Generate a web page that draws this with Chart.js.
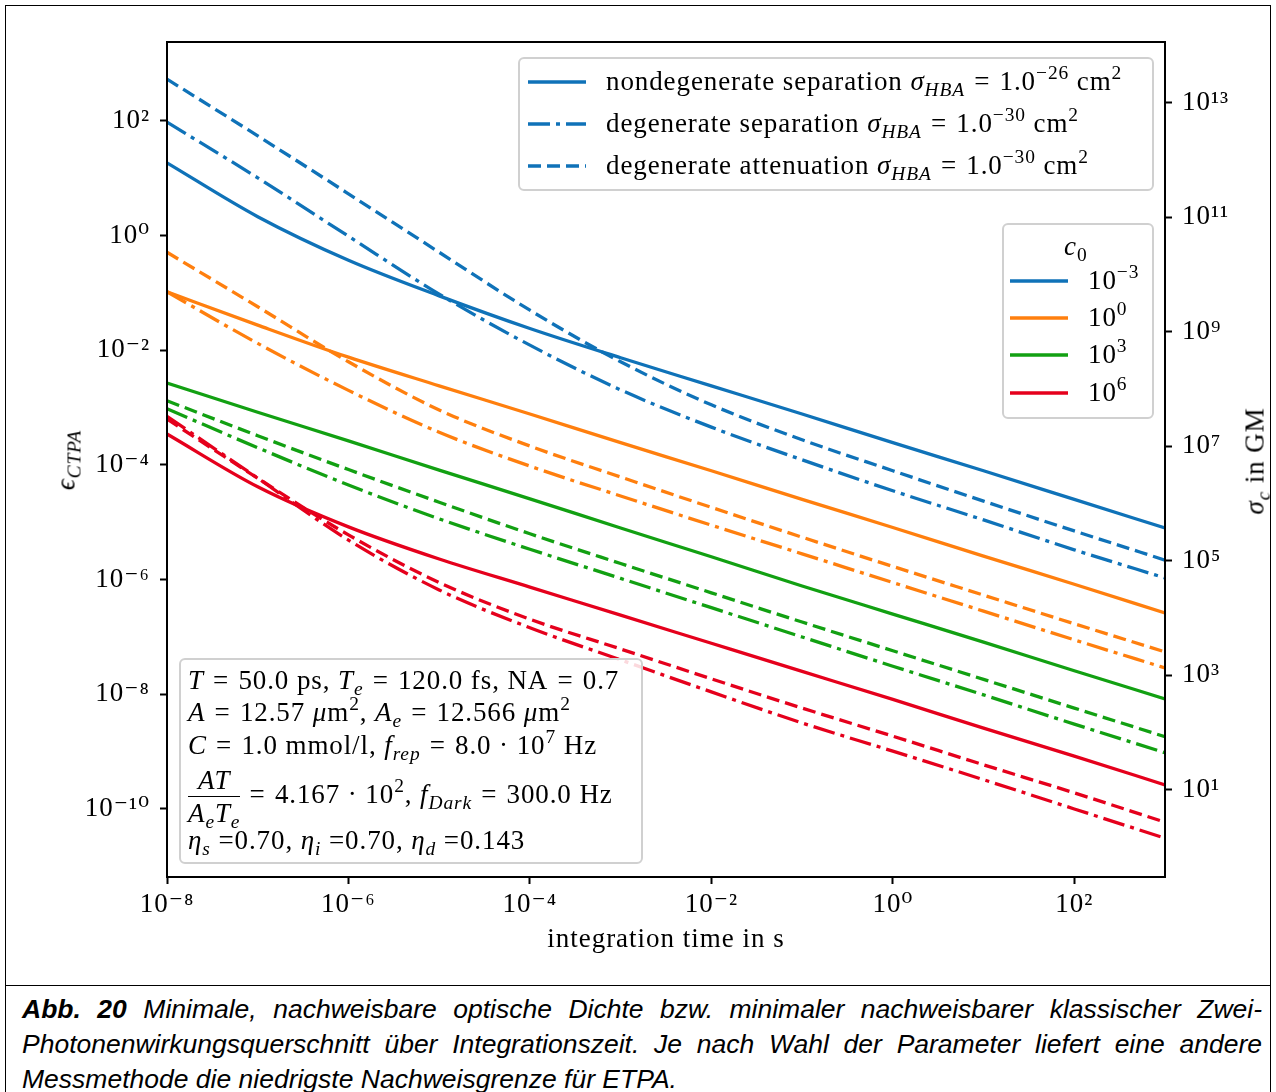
<!DOCTYPE html>
<html>
<head>
<meta charset="utf-8">
<script src="https://cdn.jsdelivr.net/npm/chart.js@4/dist/chart.umd.min.js"></script>
<style>
  body { margin: 0; background: #fff; width: 1276px; height: 1092px; position: relative; overflow: hidden; }
  #frame { position: absolute; left: 5px; top: 5px; width: 1264px; height: 979px; border: 1.5px solid #000; }
  #capbox { position: absolute; left: 5px; top: 985px; width: 1264px; height: 120px; border-left: 1.5px solid #000; border-right: 1.5px solid #000; border-top: 1.5px solid #000; }
  #wrap { position: absolute; left: 0; top: 0; width: 1276px; height: 985px; }
  .m { position: absolute; font-family: "Liberation Serif", "DejaVu Serif", serif; font-size: 27px; color: #000; white-space: nowrap; line-height: 1; letter-spacing: 0.9px; }
  .m i { font-style: italic; }
  .m sub { font-size: 72%; vertical-align: -0.3em; line-height: 0; }
  .m sup { font-size: 72%; vertical-align: 0.55em; line-height: 0; }
  .eq { margin: 0 0.34em; }
  .box { position: absolute; border: 2px solid #d0d0d0; border-radius: 6px; background: rgba(255,255,255,0.85); }
  .row { position: absolute; display: flex; align-items: center; }
  .row svg { margin-right: 20px; flex: none; }
  .cap { position: absolute; left: 22px; width: 1240px; font-family: "Liberation Sans", Arial, sans-serif; font-style: italic; font-size: 26.5px; color: #000; text-align: justify; text-align-last: justify; white-space: nowrap; line-height: 1; }
  .frac { display: inline-block; vertical-align: middle; text-align: center; margin-right: 0; }
  .frac > span { display: block; line-height: 1.2; }
  .frac .num { border-bottom: 1.4px solid #000; padding: 0 3px; }
</style>
</head>
<body>
<div id="frame"></div>
<div id="capbox"></div>
<div id="wrap"><canvas id="graph"></canvas></div>

<!-- axis titles -->
<div class="m" style="left:66px; top:460px; transform: translate(-50%,-50%) rotate(-90deg);"><i>ϵ<sub>CTPA</sub></i></div>
<div class="m" style="left:1255px; top:461px; transform: translate(-50%,-50%) rotate(-90deg);"><i>σ<sub>c</sub></i> in GM</div>

<!-- method legend -->
<div class="box" style="left:518px; top:57px; width:632px; height:130px;"></div>
<div class="row m" style="left:528px; top:68px;"><svg width="58" height="26"><line x1="0" y1="13" x2="58" y2="13" stroke="#0f72b8" stroke-width="3.4"/></svg><span>nondegenerate separation <i>σ<sub>HBA</sub></i><span class="eq">=</span>1.0<sup>−26</sup>&#8197;cm<sup>2</sup></span></div>
<div class="row m" style="left:528px; top:110px;"><svg width="58" height="26"><line x1="0" y1="13" x2="58" y2="13" stroke="#0f72b8" stroke-width="3.4" stroke-dasharray="22 6 4 6"/></svg><span>degenerate separation <i>σ<sub>HBA</sub></i><span class="eq">=</span>1.0<sup>−30</sup>&#8197;cm<sup>2</sup></span></div>
<div class="row m" style="left:528px; top:152px;"><svg width="58" height="26"><line x1="0" y1="13" x2="58" y2="13" stroke="#0f72b8" stroke-width="3.4" stroke-dasharray="13 6"/></svg><span>degenerate attenuation <i>σ<sub>HBA</sub></i><span class="eq">=</span>1.0<sup>−30</sup>&#8197;cm<sup>2</sup></span></div>

<!-- c0 legend -->
<div class="box" style="left:1002px; top:223px; width:148px; height:192px;"></div>
<div class="m" style="left:1064px; top:233px;"><i>c</i><sub>0</sub></div>
<div class="row m" style="left:1010px; top:267px;"><svg width="58" height="26"><line x1="0" y1="13" x2="58" y2="13" stroke="#0f72b8" stroke-width="3.4"/></svg><span>10<sup>−3</sup></span></div>
<div class="row m" style="left:1010px; top:304px;"><svg width="58" height="26"><line x1="0" y1="13" x2="58" y2="13" stroke="#ff7f0e" stroke-width="3.4"/></svg><span>10<sup>0</sup></span></div>
<div class="row m" style="left:1010px; top:341px;"><svg width="58" height="26"><line x1="0" y1="13" x2="58" y2="13" stroke="#12a012" stroke-width="3.4"/></svg><span>10<sup>3</sup></span></div>
<div class="row m" style="left:1010px; top:379px;"><svg width="58" height="26"><line x1="0" y1="13" x2="58" y2="13" stroke="#e5001c" stroke-width="3.4"/></svg><span>10<sup>6</sup></span></div>

<!-- parameter box -->
<div class="box" style="left:179px; top:658px; width:460px; height:202px;"></div>
<div class="m" style="left:188px; top:667px;"><i>T</i><span class="eq">=</span>50.0&#8197;ps, <i>T<sub>e</sub></i><span class="eq">=</span>120.0&#8197;fs, NA<span class="eq">=</span>0.7</div>
<div class="m" style="left:188px; top:699px;"><i>A</i><span class="eq">=</span>12.57&#8197;<i>μ</i>m<sup>2</sup>, <i>A<sub>e</sub></i><span class="eq">=</span>12.566&#8197;<i>μ</i>m<sup>2</sup></div>
<div class="m" style="left:188px; top:732px;"><i>C</i><span class="eq">=</span>1.0&#8197;mmol/l, <i>f<sub>rep</sub></i><span class="eq">=</span>8.0 · 10<sup>7</sup>&#8197;Hz</div>
<div class="m" style="left:188px; top:764px;"><span class="frac"><span class="num"><i>AT</i></span><span><i>A<sub>e</sub>T<sub>e</sub></i></span></span><span class="eq">=</span>4.167 · 10<sup>2</sup>, <i>f<sub>Dark</sub></i><span class="eq">=</span>300.0&#8197;Hz</div>
<div class="m" style="left:188px; top:827px;"><i>η<sub>s</sub></i> =0.70, <i>η<sub>i</sub></i> =0.70, <i>η<sub>d</sub></i> =0.143</div>

<!-- caption -->
<div class="cap" style="top:996px;"><b>Abb. 20</b> Minimale, nachweisbare optische Dichte bzw. minimaler nachweisbarer klassischer Zwei-</div>
<div class="cap" style="top:1031px;">Photonenwirkungsquerschnitt über Integrationszeit. Je nach Wahl der Parameter liefert eine andere</div>
<div class="cap" style="top:1066px; text-align-last: left;">Messmethode die niedrigste Nachweisgrenze für ETPA.</div>

<script>
// integration time in s (one point per decade)
const times = [1e-8, 1e-7, 1e-6, 1e-5, 1e-4, 1e-3, 1e-2, 1e-1, 1, 10, 100, 1000];

// c0 = 1e-3 (blue)
const blueNondegSep = [18.6, 2.14, 0.372, 8.91e-2, 2.40e-2, 7.41e-3, 2.40e-3, 7.76e-4, 2.45e-4, 7.94e-5, 2.51e-5, 7.94e-6];
const blueDegSep    = [95.5, 10.2, 0.977, 9.55e-2, 1.23e-2, 2.04e-3, 4.57e-4, 1.23e-4, 3.55e-5, 1.10e-5, 3.31e-6, 1.07e-6];
const blueDegAtt    = [537, 55.0, 5.37, 0.513, 5.01e-2, 6.31e-3, 1.12e-3, 2.75e-4, 7.94e-5, 2.34e-5, 7.08e-6, 2.19e-6];
// c0 = 1e0 (orange)
const orangeNondegSep = [0.105, 2.75e-2, 7.59e-3, 2.40e-3, 7.76e-4, 2.45e-4, 7.94e-5, 2.51e-5, 8.13e-6, 2.57e-6, 8.32e-7, 2.63e-7];
const orangeDegSep    = [0.105, 1.32e-2, 2.00e-3, 3.72e-4, 9.55e-5, 2.88e-5, 8.91e-6, 2.82e-6, 8.91e-7, 2.82e-7, 8.91e-8, 2.88e-8];
const orangeDegAtt    = [0.513, 5.75e-2, 6.31e-3, 9.12e-4, 2.14e-4, 6.17e-5, 1.82e-5, 5.50e-6, 1.70e-6, 5.37e-7, 1.70e-7, 5.50e-8];
// c0 = 1e3 (green)
const greenNondegSep = [2.69e-3, 8.32e-4, 2.63e-4, 8.13e-5, 2.57e-5, 7.94e-6, 2.51e-6, 7.76e-7, 2.51e-7, 8.13e-8, 2.57e-8, 8.32e-9];
const greenDegSep    = [9.55e-4, 2.00e-4, 4.47e-5, 1.15e-5, 3.39e-6, 1.05e-6, 3.24e-7, 1.0e-7, 3.09e-8, 9.77e-9, 3.02e-9, 9.55e-10];
const greenDegAtt    = [1.32e-3, 3.24e-4, 8.32e-5, 2.24e-5, 6.31e-6, 1.91e-6, 5.89e-7, 1.82e-7, 5.75e-8, 1.82e-8, 5.75e-9, 1.82e-9];
// c0 = 1e6 (red)
const redNondegSep = [3.47e-4, 4.17e-5, 8.32e-6, 2.29e-6, 7.41e-7, 2.40e-7, 7.76e-8, 2.51e-8, 8.13e-9, 2.57e-9, 8.32e-10, 2.63e-10];
const redDegSep    = [7.08e-4, 5.89e-5, 4.90e-6, 6.61e-7, 1.45e-7, 3.98e-8, 1.10e-8, 3.16e-9, 1.02e-9, 3.24e-10, 1.0e-10, 3.09e-11];
const redDegAtt    = [6.31e-4, 5.89e-5, 6.03e-6, 8.91e-7, 2.04e-7, 6.17e-8, 1.86e-8, 5.75e-9, 1.86e-9, 5.89e-10, 1.91e-10, 5.89e-11];

// tick label exponents
const xTickExp = [-8, -6, -4, -2, 0, 2];
const yTickExp = [-10, -8, -6, -4, -2, 0, 2];
const y2TickExp = [1, 3, 5, 7, 9, 11, 13];

const colors = { blue: "#0f72b8", orange: "#ff7f0e", green: "#12a012", red: "#e5001c" };
const dashDot = [22, 6, 4, 6];
const dashed = [13, 6];

//turn an exponent into 10 with a superscript
function powLabel(exp) {
    const sup = { "-": "\u207b", "0": "\u2070", "1": "\u00b9", "2": "\u00b2", "3": "\u00b3", "4": "\u2074",
        "5": "\u2075", "6": "\u2076", "7": "\u2077", "8": "\u2078", "9": "\u2079" };
    return "10" + String(exp).split("").map(c => sup[c]).join("");
}

function series(values, color, dash) {
    return {
        data: values.map((v, i) => ({ x: times[i], y: v })),
        borderColor: color,
        borderWidth: 3.3,
        borderDash: dash,
        pointRadius: 0,
        fill: false,
        cubicInterpolationMode: "monotone",
        yAxisID: "y"
    };
}

const datasets = [
    series(blueNondegSep, colors.blue, []),
    series(blueDegSep, colors.blue, dashDot),
    series(blueDegAtt, colors.blue, dashed),
    series(orangeNondegSep, colors.orange, []),
    series(orangeDegSep, colors.orange, dashDot),
    series(orangeDegAtt, colors.orange, dashed),
    series(greenNondegSep, colors.green, []),
    series(greenDegSep, colors.green, dashDot),
    series(greenDegAtt, colors.green, dashed),
    series(redNondegSep, colors.red, []),
    series(redDegSep, colors.red, dashDot),
    series(redDegAtt, colors.red, dashed)
];

const tickFont = { family: "'Liberation Serif', 'DejaVu Serif', serif", size: 27 };
const axisGrid = { drawOnChartArea: false, drawTicks: true, tickLength: 7, tickWidth: 2, tickColor: "#000" };
const axisBorder = { display: true, color: "#000", width: 2 };

//slightly wider lettering for the canvas texts, and a frame around the plot area
const boxPlugin = {
    id: "plotBox",
    beforeDraw(chart) {
        chart.ctx.letterSpacing = "1px";
    },
    afterDraw(chart) {
        const a = chart.chartArea;
        const ctx = chart.ctx;
        ctx.save();
        ctx.strokeStyle = "#000";
        ctx.lineWidth = 2;
        ctx.strokeRect(a.left, a.top, a.right - a.left, a.bottom - a.top);
        ctx.restore();
    }
};

const ctx = document.getElementById("graph").getContext("2d");
new Chart(ctx, {
    type: "line",
    data: { datasets: datasets },
    options: {
        responsive: true,
        maintainAspectRatio: false,
        animation: false,
        layout: { padding: { top: 42, left: 0, right: 0, bottom: 0 } },
        plugins: { legend: { display: false }, tooltip: { enabled: false } },
        scales: {
            x: {
                type: "logarithmic",
                min: 1e-8,
                max: 1e3,
                afterFit: s => { s.height = 108; },
                afterBuildTicks: s => { s.ticks = xTickExp.map(e => ({ value: Math.pow(10, e) })); },
                ticks: { callback: v => powLabel(Math.round(Math.log10(v))), font: tickFont, color: "#000", padding: 5, maxRotation: 0, autoSkip: false },
                grid: axisGrid,
                border: axisBorder,
                title: { display: true, text: "integration time in s", font: tickFont, color: "#000", padding: { top: 0, bottom: 29 } }
            },
            y: {
                type: "logarithmic",
                position: "left",
                min: Math.pow(10, -11.187),
                max: Math.pow(10, 3.378),
                afterFit: s => { s.width = 167; },
                afterBuildTicks: s => { s.ticks = yTickExp.map(e => ({ value: Math.pow(10, e) })); },
                ticks: { callback: v => powLabel(Math.round(Math.log10(v))), font: tickFont, color: "#000", padding: 10, autoSkip: false },
                grid: axisGrid,
                border: axisBorder
            },
            y2: {
                type: "logarithmic",
                position: "right",
                min: Math.pow(10, -0.507),
                max: Math.pow(10, 14.058),
                afterFit: s => { s.width = 111; },
                afterBuildTicks: s => { s.ticks = y2TickExp.map(e => ({ value: Math.pow(10, e) })); },
                ticks: { callback: v => powLabel(Math.round(Math.log10(v))), font: tickFont, color: "#000", padding: 10, autoSkip: false },
                grid: axisGrid,
                border: axisBorder
            }
        }
    },
    plugins: [boxPlugin]
});
</script>
</body>
</html>
